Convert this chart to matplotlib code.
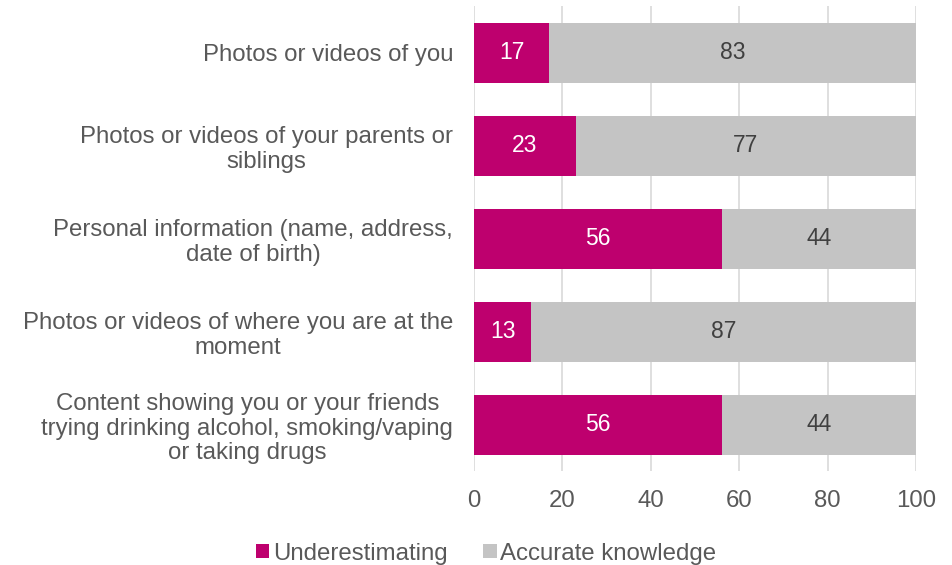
import matplotlib
matplotlib.use("Agg")
import matplotlib.pyplot as plt
import numpy as np

plt.rcParams["font.family"] = ["Liberation Sans", "DejaVu Sans"]

categories = [
    "Photos or videos of you",
    "Photos or videos of your parents or\nsiblings",
    "Personal information (name, address,\ndate of birth)",
    "Photos or videos of where you are at the\nmoment",
    "Content showing you or your friends\ntrying drinking alcohol, smoking/vaping\nor taking drugs",
]
underestimating = [17, 23, 56, 13, 56]
accurate = [83, 77, 44, 87, 44]
series_names = ["Underestimating", "Accurate knowledge"]

magenta = "#BE006E"
grey = "#C4C4C4"
text_grey = "#595959"
fs = 17.3

fig = plt.figure(figsize=(9.53, 5.65), dpi=100)
ax = fig.add_axes([0.4974, 0.1655, 0.4638, 0.823])

y = np.arange(len(categories))
h = 0.65
b1 = ax.barh(y, underestimating, height=h, color=magenta, label=series_names[0], zorder=2)
b2 = ax.barh(y, accurate, left=underestimating, height=h, color=grey, label=series_names[1], zorder=2)

# value labels centred in each segment
for rect, v in zip(b1, underestimating):
    ax.text(rect.get_x() + rect.get_width() / 2, rect.get_y() + rect.get_height() / 2, str(v),
            ha="center", va="center", color="white", fontsize=16.5)
for rect, v in zip(b2, accurate):
    ax.text(rect.get_x() + rect.get_width() / 2, rect.get_y() + rect.get_height() / 2, str(v),
            ha="center", va="center", color="#404040", fontsize=16.5)

ax.set_ylim(len(categories) - 0.5, -0.5)
ax.set_xlim(0, 100)
ax.set_xticks(range(0, 101, 20))
ax.set_yticks(y)
ax.set_yticklabels(categories, ha="right", multialignment="center", fontsize=fs,
                   color=text_grey, linespacing=1.15)
ax.tick_params(axis="x", labelsize=fs, labelcolor=text_grey, length=0, pad=13)
ax.tick_params(axis="y", length=0, pad=15)
ax.xaxis.grid(True, color="#D9D9D9", linewidth=1.2, zorder=0)
ax.set_axisbelow(True)
for s in ax.spines.values():
    s.set_visible(False)

fig.legend(handles=[b1, b2], labels=series_names, loc="center", bbox_to_anchor=(0.51, 0.02),
           ncol=2, frameon=False, fontsize=fs, labelcolor=text_grey, handlelength=0.55,
           handleheight=0.55, handletextpad=0.15, columnspacing=1.5)

fig.savefig("out.png", dpi=100)
